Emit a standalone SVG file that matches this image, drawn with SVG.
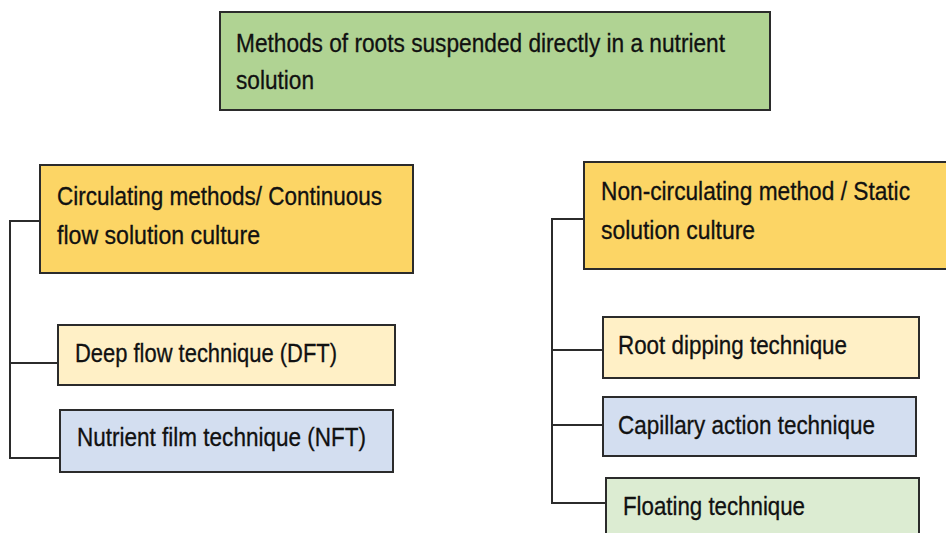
<svg xmlns="http://www.w3.org/2000/svg" width="946" height="533" viewBox="0 0 946 533">
<style>
.box{stroke:#2b2b2b;stroke-width:2}
.t{font-family:"Liberation Sans",Arial,sans-serif;font-size:25px;fill:#111111;stroke:#111111;stroke-width:0.3}
.c{fill:none;stroke:#2b2b2b;stroke-width:2}
</style>
<rect width="946" height="533" fill="#ffffff"/>
<g id="root">
<rect class="box" x="220" y="12" width="550" height="98" fill="#b0d393"/>
<text class="t" x="236" y="52" textLength="489" lengthAdjust="spacingAndGlyphs">Methods of roots suspended directly in a nutrient</text>
<text class="t" x="236" y="89" textLength="78" lengthAdjust="spacingAndGlyphs">solution</text>
</g>
<g id="circulating">
<rect class="box" x="40" y="165" width="373" height="108" fill="#fcd565"/>
<text class="t" x="57" y="205" textLength="325" lengthAdjust="spacingAndGlyphs">Circulating methods/ Continuous</text>
<text class="t" x="57" y="244" textLength="203" lengthAdjust="spacingAndGlyphs">flow solution culture</text>
</g>
<g id="dft">
<rect class="box" x="58" y="325" width="337" height="60" fill="#fff0c6"/>
<text class="t" x="75" y="362" textLength="262" lengthAdjust="spacingAndGlyphs">Deep flow technique (DFT)</text>
</g>
<g id="nft">
<rect class="box" x="60" y="410" width="333" height="62" fill="#d3def0"/>
<text class="t" x="77" y="446" textLength="289" lengthAdjust="spacingAndGlyphs">Nutrient film technique (NFT)</text>
</g>
<g id="noncirculating">
<rect class="box" x="584" y="162" width="370" height="107" fill="#fcd565"/>
<text class="t" x="601" y="200" textLength="309" lengthAdjust="spacingAndGlyphs">Non-circulating method / Static</text>
<text class="t" x="601" y="239" textLength="154" lengthAdjust="spacingAndGlyphs">solution culture</text>
</g>
<g id="rootdipping">
<rect class="box" x="603" y="317" width="316" height="61" fill="#fff0c6"/>
<text class="t" x="618" y="354" textLength="229" lengthAdjust="spacingAndGlyphs">Root dipping technique</text>
</g>
<g id="capillary">
<rect class="box" x="603" y="397" width="313" height="59" fill="#d3def0"/>
<text class="t" x="618" y="434" textLength="257" lengthAdjust="spacingAndGlyphs">Capillary action technique</text>
</g>
<g id="floating">
<rect class="box" x="606" y="478" width="313" height="70" fill="#dcecd2"/>
<text class="t" x="623" y="515" textLength="182" lengthAdjust="spacingAndGlyphs">Floating technique</text>
</g>
<g id="connectors">
<path class="c" d="M40 221H10V458H60M10 363H58"/>
<path class="c" d="M584 219H552V503H606M552 350H603M552 425H603"/>
</g>
</svg>
